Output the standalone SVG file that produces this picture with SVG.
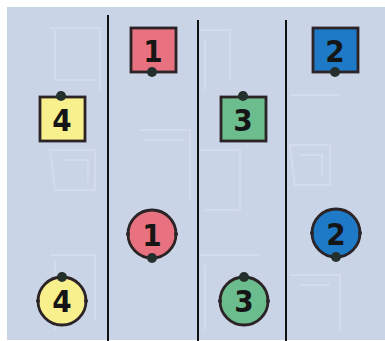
<svg xmlns="http://www.w3.org/2000/svg" width="385" height="341" viewBox="0 0 385 341">
<style>
.bd{stroke:#2b2326;stroke-width:2.8}
.pk{fill:#e8727f}
.bl{fill:#1e79c6}
.ye{fill:#f7f08c}
.gr{fill:#6cbd8e}
.dot{fill:#24302c}
.nub{fill:#2b2326}
.num{font-family:"DejaVu Sans Condensed","DejaVu Sans",sans-serif;font-stretch:condensed;font-weight:bold;font-size:31px;fill:#151515;text-anchor:middle}
.div{stroke:#111;stroke-width:2}
.mz{fill:none;stroke:#dbe3f0;stroke-width:1.5;opacity:0.7}
</style>
<rect x="0" y="0" width="385" height="341" fill="#ffffff"/>
<rect x="7" y="7" width="378" height="333" fill="#c9d4e6"/>
<g id="background-pattern" class="mz">
<path d="M50 28 H100 V90 M55 30 V80 H95"/>
<path d="M50 150 H95 V190 H55 Z M62 160 H88 V182"/>
<path d="M50 255 H95 V320 M55 260 V330"/>
<path d="M140 130 H190 V200 M145 140 H185"/>
<path d="M200 30 H230 V80 M205 40 V90"/>
<path d="M200 150 H240 V210 H205"/>
<path d="M200 255 H260 M205 265 V330"/>
<path d="M290 95 H340 M290 145 H330 V185 H295 Z M300 155 H322 V177"/>
<path d="M290 275 H340 V330 M300 285 H330"/>
</g>
<g id="dividers">
<line class="div" x1="108" y1="15" x2="108" y2="341"/>
<line class="div" x1="198" y1="20" x2="198" y2="341"/>
<line class="div" x1="286" y1="20" x2="286" y2="341"/>
</g>
<g id="square-1">
<rect class="pk bd" x="131" y="28" width="45" height="44"/>
<text class="num" x="153" y="62">1</text>
<circle class="dot" cx="152" cy="72" r="5"/>
</g>
<g id="square-2">
<rect class="bl bd" x="313" y="28" width="45" height="44"/>
<text class="num" x="335" y="62">2</text>
<circle class="dot" cx="335" cy="72" r="5"/>
</g>
<g id="square-4">
<rect class="ye bd" x="40" y="97" width="45" height="44"/>
<text class="num" x="62" y="131">4</text>
<circle class="dot" cx="61" cy="96" r="5"/>
</g>
<g id="square-3">
<rect class="gr bd" x="221" y="97" width="45" height="44"/>
<text class="num" x="243" y="131">3</text>
<circle class="dot" cx="243" cy="96" r="5"/>
</g>
<g id="circle-1">
<circle class="pk bd" cx="152" cy="234" r="24"/>
<circle class="nub" cx="128" cy="234" r="2"/>
<circle class="nub" cx="176" cy="234" r="2"/>
<text class="num" x="152" y="246">1</text>
<circle class="dot" cx="152" cy="258" r="5"/>
</g>
<g id="circle-2">
<circle class="bl bd" cx="336" cy="233" r="24"/>
<circle class="nub" cx="312" cy="233" r="2"/>
<circle class="nub" cx="360" cy="233" r="2"/>
<text class="num" x="336" y="245">2</text>
<circle class="dot" cx="336" cy="257" r="5"/>
</g>
<g id="circle-4">
<circle class="ye bd" cx="62" cy="301" r="24"/>
<circle class="nub" cx="38" cy="301" r="2"/>
<circle class="nub" cx="86" cy="301" r="2"/>
<text class="num" x="62" y="312">4</text>
<circle class="dot" cx="62" cy="277" r="5"/>
</g>
<g id="circle-3">
<circle class="gr bd" cx="244" cy="301" r="24"/>
<circle class="nub" cx="220" cy="301" r="2"/>
<circle class="nub" cx="268" cy="301" r="2"/>
<text class="num" x="244" y="312">3</text>
<circle class="dot" cx="244" cy="277" r="5"/>
</g>
</svg>
